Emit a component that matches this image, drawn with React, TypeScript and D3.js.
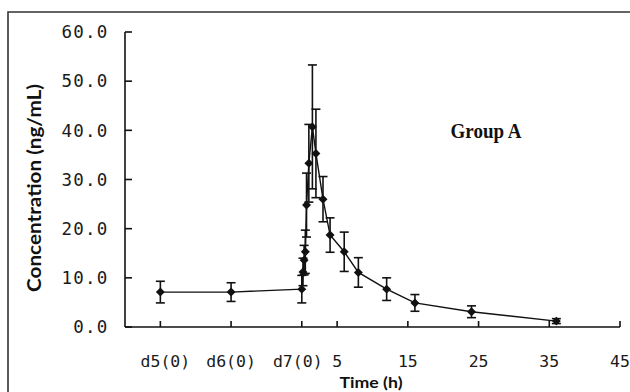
import React from "react";
import * as d3 from "d3";

// Time positions (h); day-baseline samples placed at -20, -10 on the same axis
const times = [-20, -10, 0, 0.17, 0.33, 0.5, 0.67, 1, 1.5, 2, 3, 4, 6, 8, 12, 16, 24, 36];
const means = [7.1, 7.1, 7.7, 11.2, 13.6, 15.3, 24.8, 33.3, 40.7, 35.3, 26.0, 18.7, 15.3, 11.1, 7.7, 4.9, 3.1, 1.2];
const sds = [2.2, 1.9, 2.8, 2.8, 3.0, 4.4, 6.5, 7.9, 12.6, 9.0, 4.6, 3.5, 4.0, 3.0, 2.3, 1.7, 1.2, 0.5];

const xTickValues = [-20, -10, 0, 5, 15, 25, 35, 45];
const xTickLabels = ["d5(0)", "d6(0)", "d7(0)", "5", "15", "25", "35", "45"];
const yTickValues = [0, 10, 20, 30, 40, 50, 60];

const W = 630;
const H = 392;

export default function App() {
  const x = d3.scaleLinear().domain([-25, 45]).range([125, 620]);
  const y = d3.scaleLinear().domain([0, 60]).range([327, 32]);

  const pts = times.map((t, i) => ({ t, m: means[i], s: sds[i] }));
  const line = d3
    .line<{ t: number; m: number }>()
    .x((d) => x(d.t))
    .y((d) => y(d.m));
  const diamond = d3.symbol().type(d3.symbolSquare).size(40)();

  const labelShift = (v: number) => (v === -20 ? 5 : v === 0 ? -4 : 0);

  return (
    <svg
      width={W}
      height={H}
      style={{ position: "absolute", left: 0, top: 0, background: "#fff" }}
    >
      {/* outer frame (cropped on right/bottom) */}
      <path d={`M8,${H + 2}V12H${W + 2}`} fill="none" stroke="#333" strokeWidth={1.6} />

      {/* y axis */}
      <line x1={x(-25)} x2={x(-25)} y1={y(60)} y2={y(0)} stroke="#111" strokeWidth={1.6} />
      {yTickValues.map((v) => (
        <g key={"yt" + v}>
          <line x1={x(-25)} x2={x(-25) + 7} y1={y(v)} y2={y(v)} stroke="#111" strokeWidth={1.6} />
          <text
            x={108.5}
            y={y(v)}
            dy="0.36em"
            textAnchor="end"
            fontFamily="DejaVu Sans Mono"
            fontSize={17.5}
            letterSpacing={1.2}
            fill="#1a1a1a"
          >
            {v.toFixed(1)}
          </text>
        </g>
      ))}

      {/* x axis */}
      <line x1={x(-25)} x2={x(45)} y1={y(0)} y2={y(0)} stroke="#111" strokeWidth={1.6} />
      {xTickValues.map((v, i) => (
        <g key={"xt" + v}>
          <line x1={x(v)} x2={x(v)} y1={y(0)} y2={y(0) - 6} stroke="#111" strokeWidth={1.6} />
          <text
            x={x(v) + labelShift(v)}
            y={367}
            textAnchor="middle"
            fontFamily="DejaVu Sans Mono"
            fontSize={16.5}
            fill="#1a1a1a"
          >
            {xTickLabels[i]}
          </text>
        </g>
      ))}

      {/* error bars */}
      {pts.map((p, i) => (
        <g key={"e" + i} stroke="#111" strokeWidth={1.6}>
          <line x1={x(p.t)} x2={x(p.t)} y1={y(p.m + p.s)} y2={y(Math.max(0, p.m - p.s))} />
          <line x1={x(p.t) - 4.5} x2={x(p.t) + 4.5} y1={y(p.m + p.s)} y2={y(p.m + p.s)} />
          <line
            x1={x(p.t) - 4.5}
            x2={x(p.t) + 4.5}
            y1={y(Math.max(0, p.m - p.s))}
            y2={y(Math.max(0, p.m - p.s))}
          />
        </g>
      ))}

      {/* mean line */}
      <path d={line(pts) || ""} fill="none" stroke="#111" strokeWidth={1.4} />

      {/* markers */}
      {pts.map((p, i) => (
        <path
          key={"m" + i}
          d={diamond || ""}
          transform={`translate(${x(p.t)},${y(p.m)}) rotate(45)`}
          fill="#111"
        />
      ))}

      {/* annotation */}
      <text
        x={486}
        y={138}
        textAnchor="middle"
        fontFamily="Liberation Serif"
        fontWeight="bold"
        fontSize={20}
        textLength={71}
        lengthAdjust="spacingAndGlyphs"
        fill="#111"
      >
        Group A
      </text>

      {/* axis titles */}
      <text
        transform={`translate(41,${188}) rotate(-90)`}
        textAnchor="middle"
        fontFamily="Lato"
        fontWeight="bold"
        fontSize={19}
        textLength={208}
        lengthAdjust="spacingAndGlyphs"
        fill="#111"
      >
        Concentration (ng/mL)
      </text>
      <text
        x={371}
        y={388}
        textAnchor="middle"
        fontFamily="Lato"
        fontWeight="bold"
        fontSize={16}
        textLength={63}
        lengthAdjust="spacingAndGlyphs"
        fill="#111"
      >
        Time (h)
      </text>
    </svg>
  );
}
